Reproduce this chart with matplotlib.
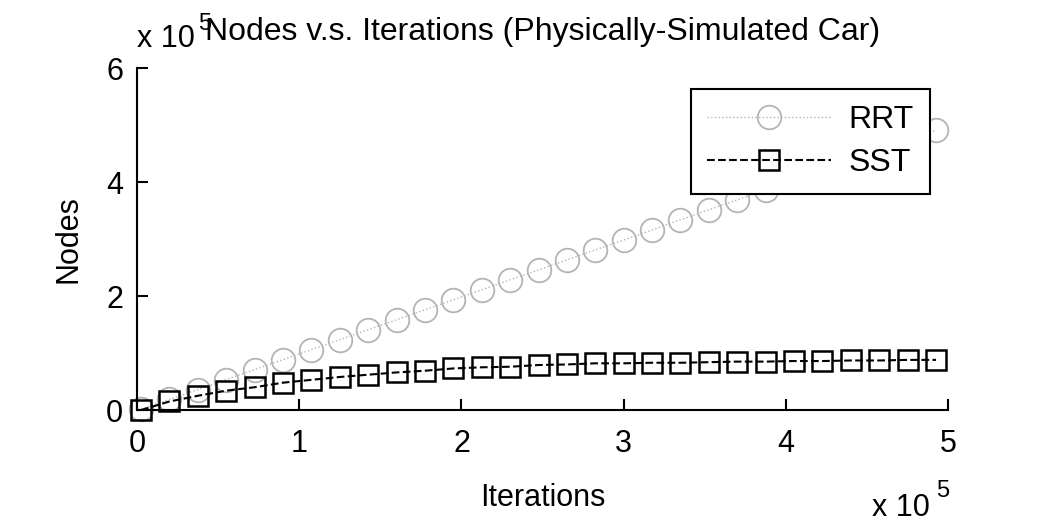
import matplotlib
matplotlib.use("Agg")
import matplotlib.pyplot as plt
import numpy as np

plt.rcParams["font.family"] = ["Liberation Sans", "DejaVu Sans"]

# Data (iterations and node counts)
iterations = [2500, 20000, 37500, 55000, 72500, 90000, 107500, 125000, 142500,
              160000, 177500, 195000, 212500, 230000, 247500, 265000, 282500,
              300000, 317500, 335000, 352500, 370000, 387500, 405000, 422500,
              440000, 457500, 475000, 492500]
rrt_nodes = [2000, 18500, 36000, 53500, 71000, 88500, 106000, 123500, 141000,
             158500, 176000, 193500, 211000, 228500, 246000, 263500, 281000,
             298500, 316000, 334000, 351500, 369000, 386000, 403500, 421000,
             438500, 456000, 473500, 491000]
sst_nodes = [0, 15000, 25000, 34000, 40000, 48000, 53000, 58000, 62000,
             66000, 69000, 73000, 75000, 76000, 79000, 80000, 82000, 82000,
             83000, 83000, 84000, 85000, 85000, 86000, 86000, 87000, 87000,
             88000, 88000]

x_ticks = [0, 1, 2, 3, 4, 5]
y_ticks = [0, 2, 4, 6]
scale = 1e5
fs = 22

x = np.array(iterations) / scale
fig = plt.figure(figsize=(10.5, 5.25), dpi=100)
ax = fig.add_axes([0.1305, 0.219, 0.7725, 0.651])

ax.plot(x, np.array(rrt_nodes) / scale, linestyle=":", color="#b4b4b4", linewidth=1,
        marker="o", markersize=17, markerfacecolor="none", markeredgecolor="#b4b4b4",
        markeredgewidth=1.3, label="RRT", clip_on=False)
ax.plot(x, np.array(sst_nodes) / scale, linestyle="--", color="black", linewidth=1.5,
        marker="s", markersize=15, markerfacecolor="none", markeredgecolor="black",
        markeredgewidth=1.8, label="SST", clip_on=False)

ax.set_xlim(0, 5)
ax.set_ylim(0, 6)
ax.set_xticks(x_ticks)
ax.set_yticks(y_ticks)
ax.spines["top"].set_visible(False)
ax.spines["right"].set_visible(False)
for s in ["left", "bottom"]:
    ax.spines[s].set_linewidth(1.5)
ax.tick_params(direction="in", length=8, width=1.5, labelsize=fs)
ax.tick_params(axis="x", pad=14)
ax.tick_params(axis="y", pad=10)

ax.set_xlabel("Iterations", fontsize=fs, labelpad=17)
ax.set_ylabel("Nodes", fontsize=fs, labelpad=16)
ax.set_title("Nodes v.s. Iterations (Physically-Simulated Car)", fontsize=23, pad=20)

# exponent labels
fig.text(137 / 1050, 1 - 47 / 525, "x 10", fontsize=fs, ha="left", va="baseline")
fig.text(198 / 1050, 1 - 30 / 525, "5", fontsize=17, ha="left", va="baseline")
fig.text(872 / 1050, 1 - 516 / 525, "x 10", fontsize=fs, ha="left", va="baseline")
fig.text(936 / 1050, 1 - 497 / 525, "5", fontsize=17, ha="left", va="baseline")

leg = ax.legend(loc="upper right", bbox_to_anchor=(930 / 1050, 1 - 89 / 525),
                bbox_transform=fig.transFigure, borderaxespad=0, fontsize=23,
                handlelength=3.9, fancybox=False, framealpha=1, edgecolor="black",
                borderpad=0.5, labelspacing=0.4, handletextpad=0.55)
leg.get_frame().set_linewidth(1.5)

fig.savefig("out.png", dpi=100)
